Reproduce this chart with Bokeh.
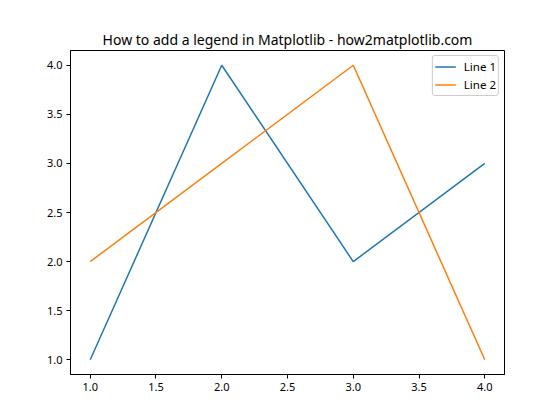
from bokeh.plotting import figure
from bokeh.models import FixedTicker, Range1d, Legend, LegendItem, NumeralTickFormatter
from bokeh.embed import file_html
from bokeh.resources import INLINE

x = [1, 2, 3, 4]
line1 = [1, 4, 2, 3]
line2 = [2, 3, 4, 1]
labels = ["Line 1", "Line 2"]
colors = ["#1f77b4", "#ff7f0e"]
ticks = [1.0, 1.5, 2.0, 2.5, 3.0, 3.5, 4.0]
title = "How to add a legend in Matplotlib - how2matplotlib.com"

FONT = "Noto Sans"

p = figure(width=544, height=404, output_backend="svg", toolbar_location=None,
           x_range=Range1d(0.85, 4.15), y_range=Range1d(0.85, 4.15),
           min_border_left=70, min_border_right=40, min_border_top=50, min_border_bottom=30)
p.title.text = title
p.title.align = "center"
p.title.text_font = FONT
p.title.text_font_size = "14px"
p.title.text_font_style = "normal"
p.title.text_color = "black"
p.title.standoff = 3

r1 = p.line(x, line1, line_color=colors[0], line_width=1.5)
r2 = p.line(x, line2, line_color=colors[1], line_width=1.5)

p.xgrid.visible = False
p.ygrid.visible = False
p.outline_line_color = "black"
p.outline_line_width = 1
p.outline_line_alpha = 1
p.background_fill_color = "white"
p.border_fill_color = "white"

for ax in (p.xaxis[0], p.yaxis[0]):
    ax.ticker = FixedTicker(ticks=ticks)
    ax.formatter = NumeralTickFormatter(format="0.0")
    ax.major_tick_out = 4
    ax.major_tick_in = 0
    ax.minor_tick_out = 0
    ax.minor_tick_in = 0
    ax.axis_line_color = "black"
    ax.major_tick_line_color = "black"
    ax.major_label_text_font = FONT
    ax.major_label_text_font_size = "11px"
    ax.major_label_text_color = "black"
    ax.major_label_standoff = 4

legend = Legend(items=[LegendItem(label=labels[0], renderers=[r1]),
                       LegendItem(label=labels[1], renderers=[r2])],
                location="top_right")
legend.label_text_font = FONT
legend.label_text_font_size = "11.5px"
legend.label_text_color = "black"
legend.border_line_color = "#cccccc"
legend.border_line_alpha = 1
legend.border_line_width = 1
legend.margin = 5
legend.padding = 2
legend.spacing = 1
legend.glyph_width = 21
legend.label_height = 17
legend.glyph_height = 17
legend.label_standoff = 8
if "border_radius" in Legend.properties():
    legend.border_radius = 3
p.add_layout(legend, "center")

open("out.html", "w").write(file_html(p, INLINE))
